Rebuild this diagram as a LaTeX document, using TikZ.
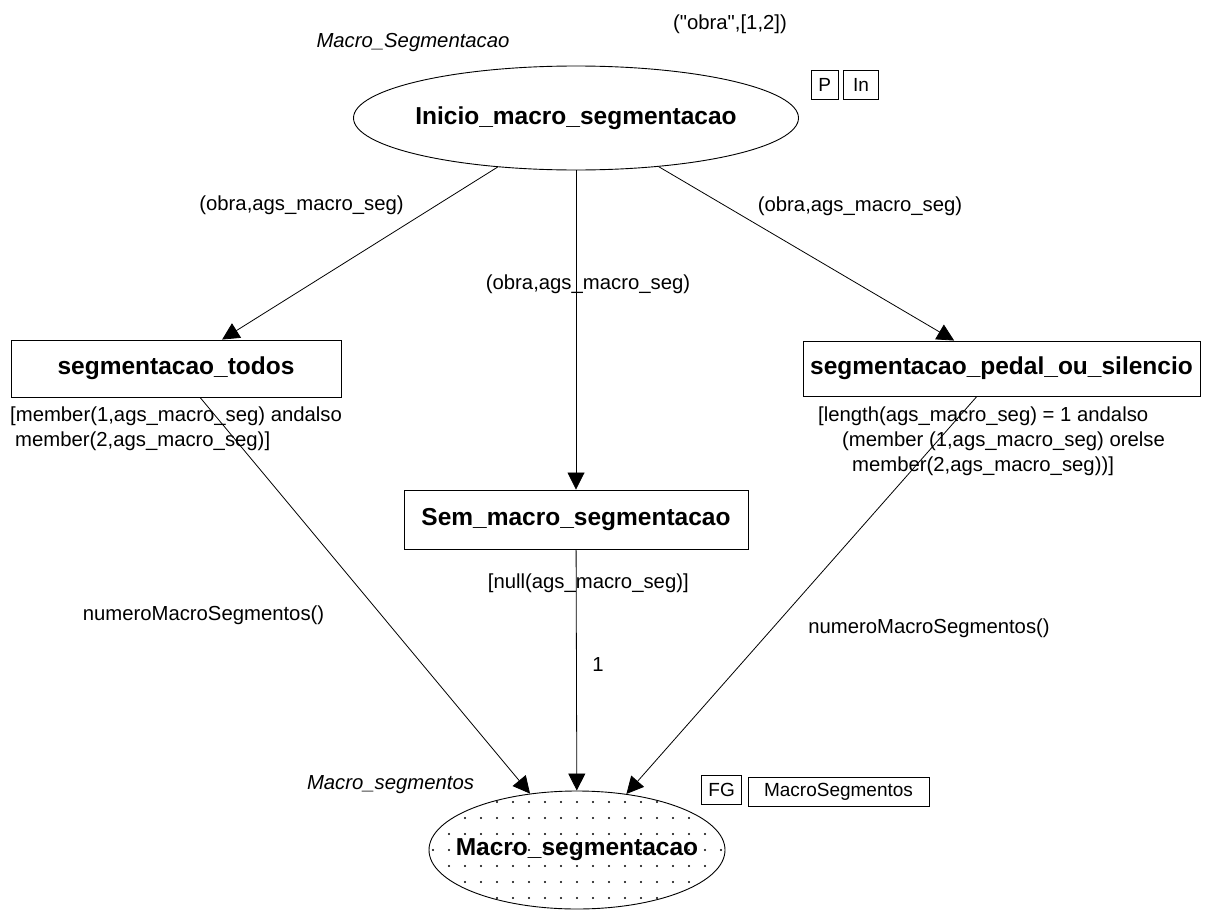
\documentclass[tikz,border=0pt]{standalone}
\usepackage{fontspec}
\setmainfont{Liberation Sans}
% same face without the TeX quote mapping, for straight double quotes
\newfontfamily\plainsans{Liberation Sans}
\usetikzlibrary{shapes.geometric,arrows.meta}

\begin{document}
\begin{tikzpicture}[x=1pt,y=-1pt,
  lbl/.style={font=\fontsize{20.3}{25}\selectfont, inner sep=0pt},
  title/.style={font=\fontsize{20.3}{25}\selectfont\itshape, inner sep=0pt},
  bold/.style={font=\fontsize{24.5}{28}\selectfont\bfseries, inner sep=0pt},
  place/.style={draw, ellipse, line width=0.9pt, inner sep=0pt},
  trans/.style={draw, rectangle, line width=0.9pt, inner sep=0pt,
    font=\fontsize{24.5}{28}\selectfont\bfseries},
  tag/.style={draw, rectangle, line width=0.8pt, inner sep=0pt,
    font=\fontsize{19}{22}\selectfont},
  arc/.style={line width=0.8pt, -{Triangle[length=17pt,width=17pt]}},
]
\useasboundingbox (0,0) rectangle (1208,910);

% places and transitions
\node[place, minimum width=445pt, minimum height=104pt,
  label={[bold]center:Inicio\_macro\_segmentacao}] (ini) at (576,118) {};
\node[trans, minimum width=330pt, minimum height=57pt] (todos) at (176,368.5) {segmentacao\_todos};
\node[trans, minimum width=397pt, minimum height=55pt] (pedal) at (1001.5,368.5) {segmentacao\_pedal\_ou\_silencio};
\node[trans, minimum width=344pt, minimum height=59pt] (sem) at (576,519.5) {Sem\_macro\_segmentacao};

% dotted fill of the output place
\begin{scope}
  \clip (577,850) ellipse [x radius=148, y radius=59];
  \foreach \i in {-10,...,10}
    \foreach \j in {-4,...,4}
      \fill (577+16*\i, 850+16*\j) circle[radius=1.2pt];
\end{scope}
\node[place, minimum width=296pt, minimum height=118pt,
  label={[bold]center:Macro\_segmentacao}] (macro) at (577,850) {};

% place names, initial marking and colour-set tags
\node[title] (t1) at (413,43) {Macro\_Segmentacao};
\node[title] (t2) at (390.5,785) {Macro\_segmentos};
\node[lbl] (init) at (730,24) {\plainsans("obra",[1,2])};
\node[tag, minimum width=27.5pt, minimum height=29pt] (ptag) at (824.7,84.5) {P};
\node[tag, minimum width=34.5pt, minimum height=29pt] (intag) at (861,84.5) {In};
\node[tag, minimum width=40pt, minimum height=29pt] (fgtag) at (721.6,789.5) {FG};
\node[tag, minimum width=181pt, minimum height=29pt] (mstag) at (838.5,791.5) {MacroSegmentos};

% arcs
\draw[arc] (ini) -- (todos);
\draw[arc] (ini) -- (sem);
\draw[arc] (ini) -- (pedal);
\draw[arc] (todos) -- (macro);
\draw[arc] (sem) -- (macro);
\draw[arc] (pedal) -- (macro);

% arc inscriptions and guards
\node[lbl] (l1) at (301.5,205) {(obra,ags\_macro\_seg)};
\node[lbl] (l2) at (588,284) {(obra,ags\_macro\_seg)};
\node[lbl] (l3) at (860,206) {(obra,ags\_macro\_seg)};
\node[lbl, anchor=north west, align=left] (g1) at (10,407)
  {[member(1,ags\_macro\_seg) andalso\\\hspace*{5pt}member(2,ags\_macro\_seg)]};
\node[lbl, anchor=north west, align=left] (g2) at (818,407)
  {[length(ags\_macro\_seg) = 1 andalso\\\hspace*{24pt}(member (1,ags\_macro\_seg) orelse\\\hspace*{34pt}member(2,ags\_macro\_seg))]};
\node[lbl] (g3) at (588.3,583.5) {[null(ags\_macro\_seg)]};
\node[lbl] (w1) at (203.5,615) {numeroMacroSegmentos()};
\node[lbl] (w2) at (929,628) {numeroMacroSegmentos()};
\node[lbl] (w3) at (598,665) {1};
\end{tikzpicture}
\end{document}
